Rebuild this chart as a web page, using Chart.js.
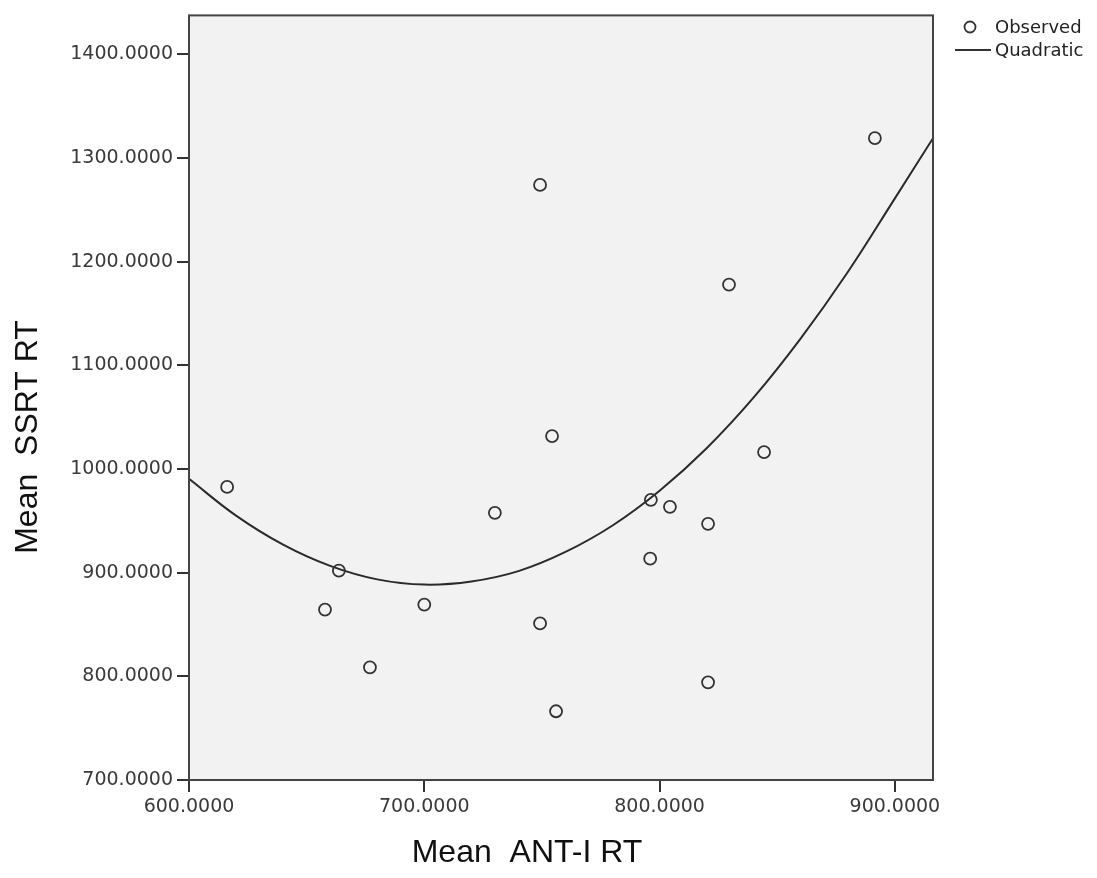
<!DOCTYPE html>
<html>
<head>
<meta charset="utf-8">
<script src="https://cdn.jsdelivr.net/npm/chart.js@4.4.1/dist/chart.umd.min.js"></script>
<style>
    html, body { margin: 0; padding: 0; background: #fff; }
    #wrap { width: 1097px; height: 878px; }
</style>
</head>
<body>
<div id="wrap"><canvas id="curveChart" width="1097" height="878"></canvas></div>
<script>
// observed points
const antiRT = [616.2, 663.7, 657.8, 676.9, 700.0, 730.0, 749.2, 749.2, 754.3, 756.0, 796.3, 796.0, 804.4, 820.6, 820.6, 829.5, 844.4, 891.5];
const ssrtRT = [982.7, 901.9, 864.4, 808.7, 869.2, 957.7, 1274.0, 851.0, 1031.7, 766.3, 970.2, 913.5, 963.5, 947.1, 794.2, 1177.9, 1016.3, 1319.2];

// quadratic fit line
const fitX = [600, 620, 640, 660, 680, 700, 720, 740, 760, 780, 800, 820, 840, 860, 880, 900, 916.2];
const fitY = [990.5, 955, 927, 906.5, 893.5, 888.5, 891.5, 901.5, 920, 945.5, 979, 1020, 1069, 1126, 1190, 1261, 1319];

const xTicks = [600, 700, 800, 900];
const yTicks = [700, 800, 900, 1000, 1100, 1200, 1300, 1400];

const xTitle = 'Mean  ANT-I RT';
const yTitle = 'Mean  SSRT RT';
const legendLabels = ['Observed', 'Quadratic'];

const observed = antiRT.map((x, i) => ({x: x, y: ssrtRT[i]}));
const quadratic = fitX.map((x, i) => ({x: x, y: fitY[i]}));

const frame = {
    id: 'frame',
    beforeDraw(chart) {
        const a = chart.chartArea;
        const ctx = chart.ctx;
        ctx.save();
        ctx.fillStyle = '#f2f2f2';
        ctx.fillRect(a.left, a.top, a.right - a.left, a.bottom - a.top);
        ctx.restore();
    },
    afterDraw(chart) {
        const a = chart.chartArea;
        const ctx = chart.ctx;
        ctx.save();
        ctx.strokeStyle = '#444';
        ctx.lineWidth = 2;
        ctx.strokeRect(a.left, a.top, a.right - a.left, a.bottom - a.top);

        // axis titles
        ctx.fillStyle = '#111';
        ctx.font = '32px "Liberation Sans", Arial, sans-serif';
        ctx.textAlign = 'center';
        ctx.textBaseline = 'middle';
        ctx.fillText(xTitle, 527, 853);
        ctx.translate(28, 437);
        ctx.rotate(-Math.PI / 2);
        ctx.fillText(yTitle, 0, 0);
        ctx.restore();

        // legend
        ctx.save();
        ctx.strokeStyle = '#333';
        ctx.fillStyle = '#222';
        ctx.lineWidth = 1.8;
        ctx.beginPath();
        ctx.arc(970, 27, 5.5, 0, Math.PI * 2);
        ctx.stroke();
        ctx.lineWidth = 2;
        ctx.beginPath();
        ctx.moveTo(955, 50);
        ctx.lineTo(991, 50);
        ctx.stroke();
        ctx.font = '18px "DejaVu Sans", sans-serif';
        ctx.textAlign = 'left';
        ctx.textBaseline = 'middle';
        ctx.fillText(legendLabels[0], 995, 28);
        ctx.fillText(legendLabels[1], 995, 51);
        ctx.restore();
    }
};

const tickFont = {family: '"DejaVu Sans", sans-serif', size: 19};

const ctx = document.getElementById('curveChart').getContext('2d');
const chart = new Chart(ctx, {
    type: 'scatter',
    data: {
        datasets: [{
            label: legendLabels[0],
            data: observed,
            pointStyle: 'circle',
            pointRadius: 6,
            pointBorderWidth: 1.8,
            pointBorderColor: '#333',
            pointBackgroundColor: 'rgba(0,0,0,0)'
        }, {
            label: legendLabels[1],
            data: quadratic,
            showLine: true,
            borderColor: '#2a2a2a',
            borderWidth: 2,
            pointRadius: 0,
            tension: 0.4
        }]
    },
    options: {
        responsive: false,
        animation: false,
        layout: {padding: {top: 13, right: 164, left: 0, bottom: 0}},
        plugins: {
            legend: {display: false},
            tooltip: {enabled: false}
        },
        scales: {
            x: {
                type: 'linear',
                min: 600,
                max: 916.2,
                afterFit: function (scale) { scale.height = 98; },
                afterBuildTicks: function (scale) { scale.ticks = xTicks.map(v => ({value: v})); },
                border: {display: false},
                grid: {drawOnChartArea: false, drawTicks: true, tickLength: 12, color: '#333', lineWidth: 2},
                ticks: {
                    padding: 4,
                    color: '#3a3a3a',
                    font: tickFont,
                    maxRotation: 0,
                    callback: v => v.toFixed(4)
                }
            },
            y: {
                type: 'linear',
                min: 700,
                max: 1437.5,
                afterFit: function (scale) { scale.width = 189; },
                afterBuildTicks: function (scale) { scale.ticks = yTicks.map(v => ({value: v})); },
                border: {display: false},
                grid: {drawOnChartArea: false, drawTicks: true, tickLength: 12, color: '#333', lineWidth: 2},
                ticks: {
                    padding: 4,
                    color: '#3a3a3a',
                    font: tickFont,
                    callback: v => v.toFixed(4)
                }
            }
        }
    },
    plugins: [frame]
});
</script>
</body>
</html>
